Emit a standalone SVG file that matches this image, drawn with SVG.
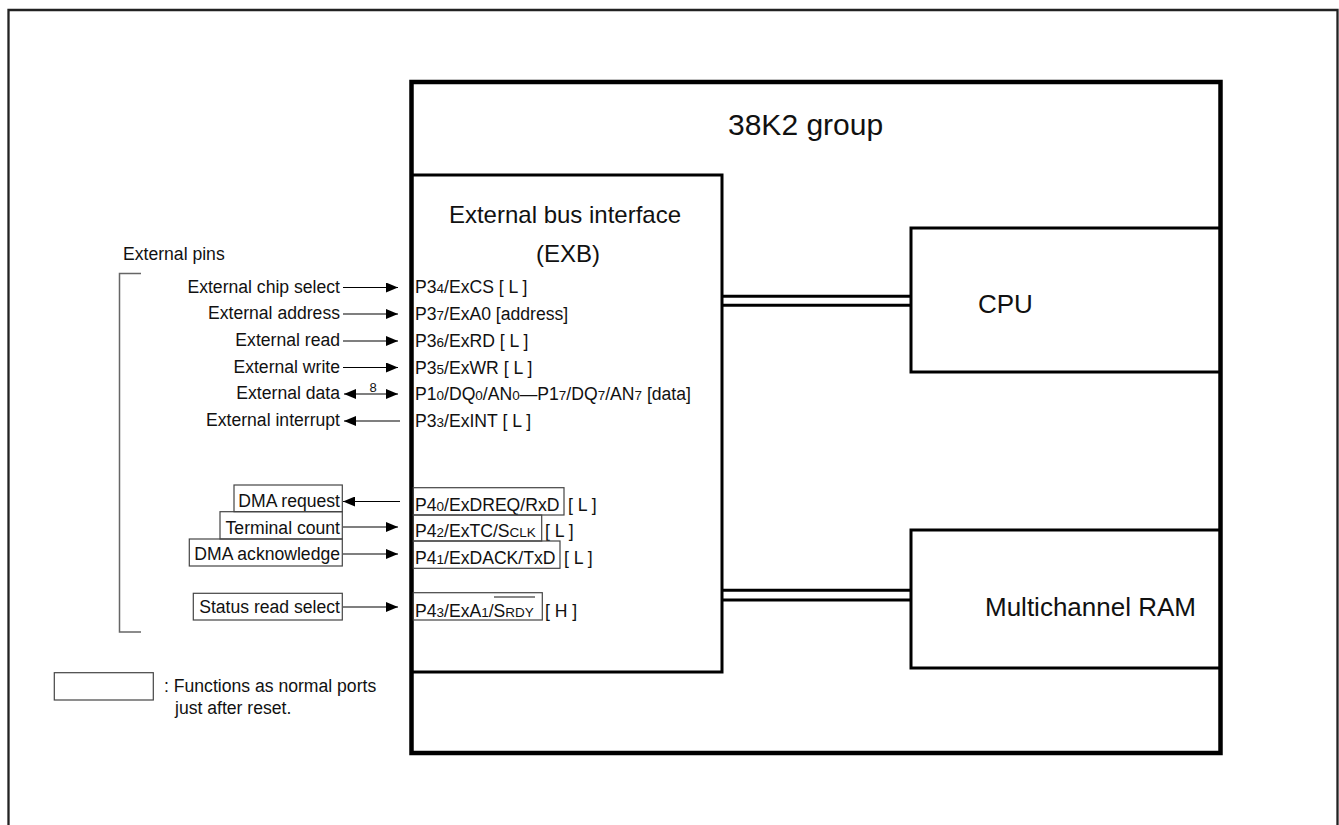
<svg xmlns="http://www.w3.org/2000/svg" width="1339" height="825" viewBox="0 0 1339 825">
<defs>
<marker id="ah" viewBox="0 0 12 10" refX="12" refY="5" markerWidth="12" markerHeight="10" orient="auto-start-reverse" markerUnits="userSpaceOnUse"><path d="M0,0 L12,5 L0,10 z" fill="#000"/></marker>
</defs>
<style>
text{font-family:"Liberation Sans",Arial,sans-serif;fill:#111}
.s{font-size:17.6px}
.sub{font-size:13.5px}
.big{font-size:24px}
.blk{fill:none;stroke:#000;stroke-width:3}
.fn{fill:none;stroke:#444;stroke-width:1.2}
.c{stroke:#000;stroke-width:1.2;fill:none}
.bus{stroke:#000;stroke-width:3}
.l{text-anchor:end}
</style>
<rect width="1339" height="825" fill="#fff"/>
<g id="frame"><path d="M8.5,825 V10 H1337.5 V825" fill="none" stroke="#222" stroke-width="2.3"/></g>
<g id="chip">
<rect x="411.5" y="82" width="809" height="671" fill="none" stroke="#000" stroke-width="4.5"/>
<text x="728" y="135" style="font-size:30px">38K2 group</text>
</g>
<g id="exb">
<path class="blk" d="M411.5,175 H722 V672 H411.5"/>
<text class="big" x="565" y="223" text-anchor="middle">External bus interface</text>
<text class="big" x="568" y="262" text-anchor="middle">(EXB)</text>
</g>
<g id="cpu">
<rect class="blk" x="911" y="228" width="309.5" height="144"/>
<text x="978" y="313" style="font-size:26px">CPU</text>
</g>
<g id="ram">
<rect class="blk" x="911" y="530" width="309.5" height="138"/>
<text x="985" y="616" style="font-size:26px">Multichannel RAM</text>
</g>
<g id="pins-bracket">
<text class="s" x="123" y="259.5">External pins</text>
<path d="M141,273.5 H119.5 V632 H141" fill="none" stroke="#666" stroke-width="1.5"/>
</g>
<g id="left-labels">
<text class="s l" x="340" y="292.5">External chip select</text>
<text class="s l" x="340" y="319">External address</text>
<text class="s l" x="340" y="346">External read</text>
<text class="s l" x="340" y="372.5">External write</text>
<text class="s l" x="340" y="399">External data</text>
<text class="s l" x="340" y="426">External interrupt</text>
<rect class="fn" x="234" y="485" width="108.3" height="26.7"/>
<text class="s l" x="340" y="507">DMA request</text>
<rect class="fn" x="220" y="511.7" width="122.3" height="27.3"/>
<text class="s l" x="340" y="533.5">Terminal count</text>
<rect class="fn" x="189.3" y="539" width="153" height="27"/>
<text class="s l" x="340" y="560">DMA acknowledge</text>
<rect class="fn" x="193.3" y="593.3" width="149" height="26.7"/>
<text class="s l" x="340" y="612.5">Status read select</text>
</g>
<g id="right-labels">
<text class="s" x="415" y="293">P3<tspan class="sub">4</tspan>/ExCS [ L ]</text>
<text class="s" x="415" y="320">P3<tspan class="sub">7</tspan>/ExA0 [address]</text>
<text class="s" x="415" y="346.5">P3<tspan class="sub">6</tspan>/ExRD [ L ]</text>
<text class="s" x="415" y="373.5">P3<tspan class="sub">5</tspan>/ExWR [ L ]</text>
<text class="s" x="415" y="400">P1<tspan class="sub">0</tspan>/DQ<tspan class="sub">0</tspan>/AN<tspan class="sub">0</tspan>—P1<tspan class="sub">7</tspan>/DQ<tspan class="sub">7</tspan>/AN<tspan class="sub">7</tspan> [data]</text>
<text class="s" x="415" y="427">P3<tspan class="sub">3</tspan>/ExINT [ L ]</text>
<rect class="fn" x="413.3" y="487.7" width="150.7" height="27.3"/>
<text class="s" x="415" y="511">P4<tspan class="sub">0</tspan>/ExDREQ/RxD</text>
<text class="s" x="568" y="511">[ L ]</text>
<rect class="fn" x="413.3" y="515" width="128.4" height="26"/>
<text class="s" x="415" y="537">P4<tspan class="sub">2</tspan>/ExTC/S<tspan class="sub">CLK</tspan></text>
<text class="s" x="545" y="537">[ L ]</text>
<rect class="fn" x="413.3" y="541" width="146.7" height="27.3"/>
<text class="s" x="415" y="564">P4<tspan class="sub">1</tspan>/ExDACK/TxD</text>
<text class="s" x="564" y="564">[ L ]</text>
<rect class="fn" x="413.3" y="592.7" width="129" height="27.3"/>
<text class="s" x="415" y="617">P4<tspan class="sub">3</tspan>/ExA<tspan class="sub">1</tspan>/S<tspan class="sub">RDY</tspan></text>
<line x1="494" y1="597" x2="535" y2="597" stroke="#111" stroke-width="1"/>
<text class="s" x="545" y="617">[ H ]</text>
</g>
<g id="legend">
<rect class="fn" x="54.3" y="672.7" width="99" height="27.3"/>
<text class="s" x="164" y="692">: Functions as normal ports</text>
<text class="s" x="175" y="713.5">just after reset.</text>
</g>
<g id="connectors">
<line class="c" x1="343" y1="287.5" x2="398" y2="287.5" marker-end="url(#ah)"/>
<line class="c" x1="343" y1="314" x2="398" y2="314" marker-end="url(#ah)"/>
<line class="c" x1="343" y1="341" x2="398" y2="341" marker-end="url(#ah)"/>
<line class="c" x1="343" y1="367.5" x2="398" y2="367.5" marker-end="url(#ah)"/>
<line class="c" x1="344" y1="394" x2="398" y2="394" marker-start="url(#ah)" marker-end="url(#ah)"/>
<text x="373" y="391.5" text-anchor="middle" style="font-size:13px">8</text>
<line class="c" x1="400" y1="421" x2="344" y2="421" marker-end="url(#ah)"/>
<line class="c" x1="400" y1="501.5" x2="343" y2="501.5" marker-end="url(#ah)"/>
<line class="c" x1="343" y1="527" x2="398" y2="527" marker-end="url(#ah)"/>
<line class="c" x1="343" y1="554" x2="398" y2="554" marker-end="url(#ah)"/>
<line class="c" x1="343" y1="607" x2="398" y2="607" marker-end="url(#ah)"/>
<line class="bus" x1="722" y1="296.3" x2="911" y2="296.3"/>
<line class="bus" x1="722" y1="305.3" x2="911" y2="305.3"/>
<line class="bus" x1="722" y1="590.3" x2="911" y2="590.3"/>
<line class="bus" x1="722" y1="600" x2="911" y2="600"/>
</g>
</svg>
